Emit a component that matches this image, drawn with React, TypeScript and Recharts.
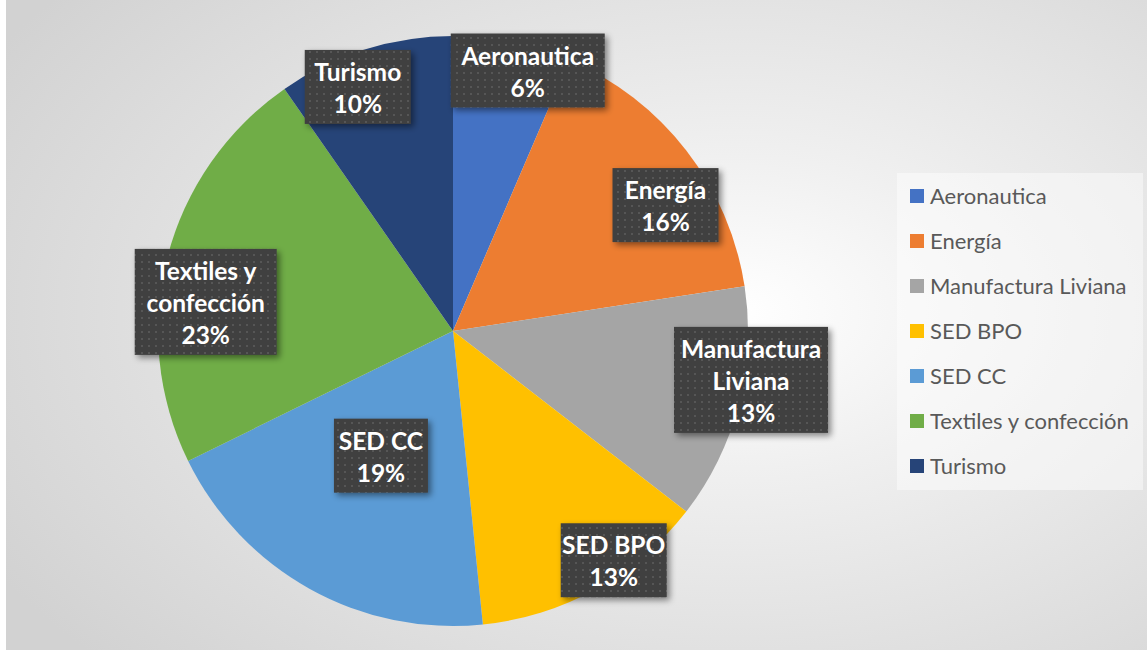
import { PieChart, Pie, Cell, Legend } from "recharts";

const sectors = ["Aeronautica", "Energía", "Manufactura Liviana", "SED BPO", "SED CC", "Textiles y confección", "Turismo"];
const counts = [2, 5, 4, 4, 6, 7, 3];
const colors = ["#4472C4", "#ED7D31", "#A5A5A5", "#FFC000", "#5B9BD5", "#70AD47", "#264478"];

// where each data label sits: distance from centre and angle shift off the slice middle
const labelRadius = [271, 247, 302, 280, 144, 249, 262];
const labelShift = [-4.4, -7.1, 5.2, 6, -1, 7.8, 3.9];

const chartData = sectors.map((name, i) => ({ name, value: counts[i] }));

const RAD = Math.PI / 180;

function wrap(text: string, max = 11) {
  const words = text.split(" ");
  const lines: string[] = [];
  let cur = "";
  words.forEach((w) => {
    if (!cur) cur = w;
    else if ((cur + " " + w).length <= max) cur += " " + w;
    else {
      lines.push(cur);
      cur = w;
    }
  });
  if (cur) lines.push(cur);
  return lines;
}

function BoxLabel(props: any) {
  const { cx, cy, midAngle, percent, name, index } = props;
  const ang = midAngle + labelShift[index];
  const x = cx + Math.cos(-ang * RAD) * labelRadius[index];
  const y = cy + Math.sin(-ang * RAD) * labelRadius[index];
  const lines = [...wrap(name), `${Math.round(percent * 100)}%`];
  const longest = Math.max(...lines.map((l) => l.length));
  const w = longest * 12 + 22;
  const h = lines.length * 32 + 10;
  const top = y - h / 2;
  return (
    <g>
      <rect x={x - w / 2} y={top} width={w} height={h} fill="url(#dots)" filter="url(#shadow)" />
      <text x={x} y={top + 5} textAnchor="middle" fill="#ffffff" fontFamily="Lato, sans-serif" fontWeight={700} fontSize={24.5}>
        {lines.map((l, i) => (
          <tspan key={i} x={x} dy={i === 0 ? 26 : 32}>{l}</tspan>
        ))}
      </text>
    </g>
  );
}

function LegendBox({ payload }: any) {
  return (
    <div style={{ background: "rgba(255,255,255,0.45)", width: 246, height: 317, boxSizing: "border-box" }}>
      {(payload || []).map((p: any, i: number) => (
        <div key={i} style={{ display: "flex", alignItems: "center", height: 45, paddingLeft: 13 }}>
          <span style={{ width: 14, height: 14, background: p.color, marginRight: 6 }} />
          <span style={{ fontFamily: "Lato, sans-serif", fontSize: 22, color: "#595959" }}>{p.value}</span>
        </div>
      ))}
    </div>
  );
}

export default function App() {
  return (
    <div
      style={{
        position: "absolute", left: 6, top: 0, width: 1141, height: 650,
        background: "radial-gradient(ellipse 75% 80% at 64% 48%, #ffffff 0%, #f0f0f0 30%, #d2d2d2 100%)",
      }}
    >
      <PieChart width={1141} height={650} margin={{ top: 0, right: 0, bottom: 0, left: 0 }}>
        <defs>
          <pattern id="dots" width="7" height="7" patternUnits="userSpaceOnUse">
            <rect width="7" height="7" fill="#3f3f3f" />
            <rect x="2" y="2" width="2" height="2" fill="#575757" />
          </pattern>
          <filter id="shadow" x="-20%" y="-20%" width="150%" height="150%">
            <feDropShadow dx="3" dy="3" stdDeviation="3" floodColor="#000" floodOpacity="0.45" />
          </filter>
        </defs>
        <Pie
          data={chartData}
          dataKey="value"
          nameKey="name"
          cx={447} cy={331}
          outerRadius={295}
          startAngle={90} endAngle={-270}
          stroke="none"
          labelLine={false}
          label={BoxLabel}
          isAnimationActive={false}
        >
          {chartData.map((_, i) => (
            <Cell key={i} fill={colors[i]} />
          ))}
        </Pie>
        <Legend
          layout="vertical"
          align="right"
          verticalAlign="top"
          content={<LegendBox />}
          wrapperStyle={{ left: 891, top: 173, width: 246 }}
        />
      </PieChart>
    </div>
  );
}
